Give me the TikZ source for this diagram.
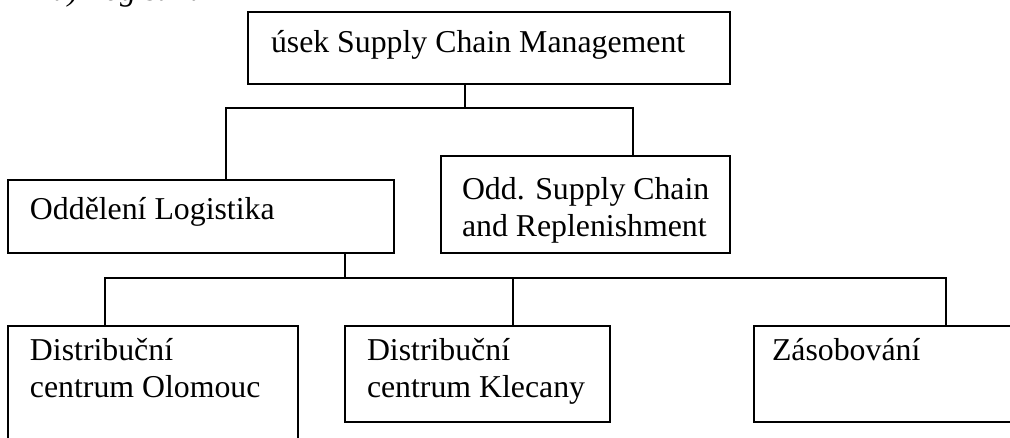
\documentclass[tikz,border=0pt]{standalone}
\usepackage{fontspec}
\setmainfont{Liberation Serif}
\begin{document}
\begin{tikzpicture}[x=1pt,y=-1pt,
  box/.style={draw, line width=1.5pt, anchor=north west, inner sep=0pt, outer sep=0pt},
  lbl/.style={anchor=base west, inner sep=0pt, outer sep=0pt,
              font=\fontsize{31.8}{37}\selectfont},
  link/.style={line width=1.5pt}]
  \path[use as bounding box, clip] (0,0) rectangle (1010,438);

  % heading line, mostly above the page area
  \node[lbl, font=\fontsize{31.8}{37}\selectfont\itshape] (head) at (52,1) {d) Logistika};

  % boxes
  \node[box, minimum width=482pt, minimum height=72pt] (top) at (248,12) {};
  \node[box, minimum width=386pt, minimum height=73pt] (log) at (8,180) {};
  \node[box, minimum width=289pt, minimum height=97pt] (sc)  at (441,156) {};
  \node[box, minimum width=290pt, minimum height=140pt] (olo) at (8,326) {};
  \node[box, minimum width=265pt, minimum height=96pt] (kle) at (345,326) {};
  \node[box, minimum width=290pt, minimum height=96pt] (zas) at (754,326) {};

  % texts
  \node[lbl] (ttop) at (271,53) {úsek Supply Chain Management};
  \node[lbl] (tlog) at (30,220) {Oddělení Logistika};
  \node[lbl] (tsc1) at (462,200) {Odd. Supply Chain};
  \node[lbl] (tsc2) at (462,237) {and Replenishment};
  \node[lbl] (tolo1) at (30,361) {Distribuční};
  \node[lbl] (tolo2) at (30,398) {centrum Olomouc};
  \node[lbl] (tkle1) at (367,361) {Distribuční};
  \node[lbl] (tkle2) at (367,398) {centrum Klecany};
  \node[lbl] (tzas) at (772,361) {Zásobování};

  % junction points of the connectors
  \coordinate (j1) at (465,108);
  \coordinate (a1) at (226,108);
  \coordinate (a2) at (633,108);
  \coordinate (j2) at (345,278);
  \coordinate (b1) at (105,278);
  \coordinate (b2) at (513,278);
  \coordinate (b3) at (946,278);

  % connectors
  \draw[link] (j1 |- top.south) -- (j1);
  \draw[link] (a1 |- log.north) -- (a1) -- (a2) -- (a2 |- sc.north);
  \draw[link] (j2 |- log.south) -- (j2);
  \draw[link] (b1 |- olo.north) -- (b1) -- (b3) -- (b3 |- zas.north);
  \draw[link] (b2) -- (b2 |- kle.north);
\end{tikzpicture}
\end{document}
